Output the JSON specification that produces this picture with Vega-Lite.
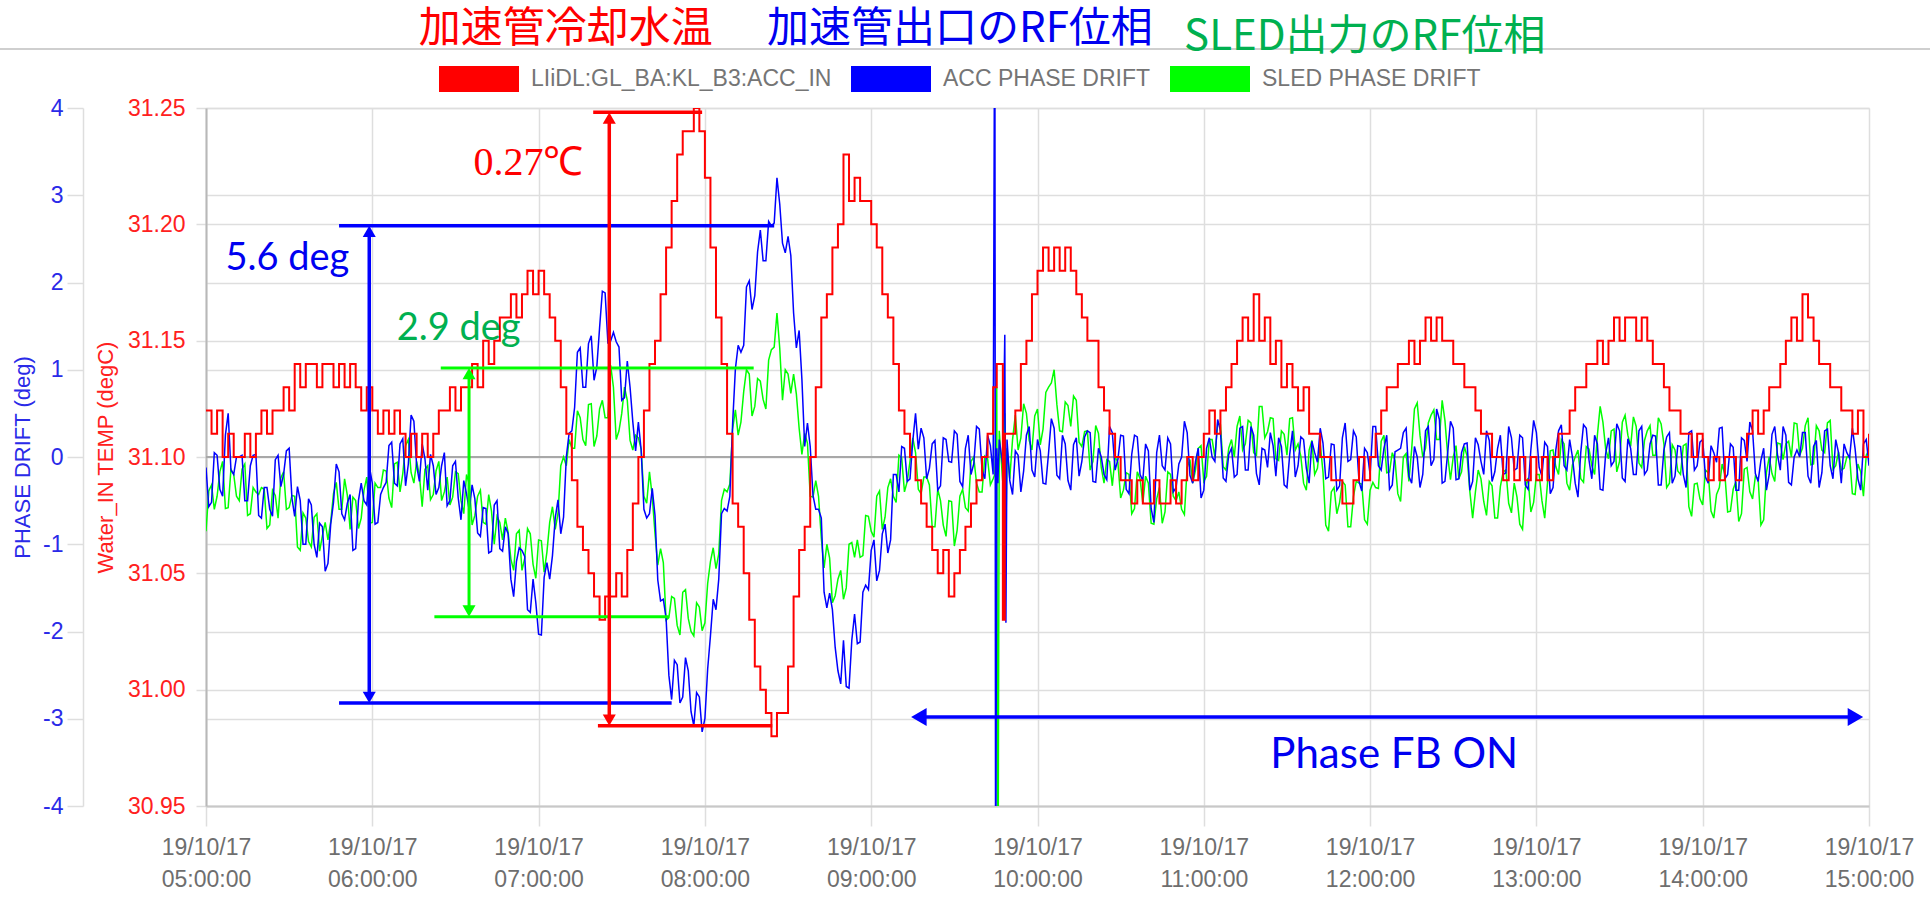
{
"$schema": "https://vega.github.io/schema/vega-lite/v6.json",
"width": 1663, "height": 698,
"autosize": {"type": "none"},
"padding": {"left": 206, "top": 108, "right": 61, "bottom": 92},
"background": "white",
"config": {"view": {"stroke": null}, "font": "Liberation Sans"},
"datasets": {
"series": [
{"t":0,"temp":31.12,"acc":-0.12,"sled":-0.85},{"t":2,"temp":31.11,"acc":-0.52,"sled":-0.32},{"t":4,"temp":31.12,"acc":0.02,"sled":-0.45},{"t":6,"temp":31.10,"acc":-0.45,"sled":-0.05},{"t":8,"temp":31.11,"acc":0.5,"sled":-0.58},{"t":10,"temp":31.10,"acc":-0.2,"sled":-0.2},{"t":12,"temp":31.10,"acc":0.0,"sled":-0.5},{"t":14,"temp":31.11,"acc":-0.5,"sled":-0.08},{"t":16,"temp":31.10,"acc":-0.1,"sled":-0.65},{"t":18,"temp":31.11,"acc":0.03,"sled":-0.4},
{"t":20,"temp":31.12,"acc":-0.7,"sled":-0.35},{"t":22,"temp":31.11,"acc":-0.35,"sled":-0.82},{"t":24,"temp":31.12,"acc":-0.68,"sled":-0.38},{"t":26,"temp":31.12,"acc":0.02,"sled":-0.7},{"t":28,"temp":31.13,"acc":-0.2,"sled":-0.17},{"t":30,"temp":31.12,"acc":0.1,"sled":-0.58},{"t":32,"temp":31.14,"acc":-0.68,"sled":-0.45},{"t":34,"temp":31.13,"acc":-0.5,"sled":-1.07},{"t":36,"temp":31.14,"acc":-1.0,"sled":-0.7},{"t":38,"temp":31.14,"acc":-0.55,"sled":-1.03},
{"t":40,"temp":31.13,"acc":-1.15,"sled":-0.65},{"t":42,"temp":31.14,"acc":-0.8,"sled":-0.9},{"t":44,"temp":31.14,"acc":-1.22,"sled":-0.95},{"t":46,"temp":31.13,"acc":-0.52,"sled":-0.42},{"t":48,"temp":31.14,"acc":-0.17,"sled":-0.6},{"t":50,"temp":31.13,"acc":-0.72,"sled":-0.25},{"t":52,"temp":31.14,"acc":-0.43,"sled":-0.83},{"t":54,"temp":31.13,"acc":-1.05,"sled":-0.5},{"t":56,"temp":31.12,"acc":-0.3,"sled":-0.7},{"t":58,"temp":31.13,"acc":-0.55,"sled":-0.23},
{"t":60,"temp":31.12,"acc":-0.3,"sled":-0.75},{"t":62,"temp":31.11,"acc":-0.75,"sled":-0.35},{"t":64,"temp":31.12,"acc":-0.35,"sled":-0.15},{"t":66,"temp":31.11,"acc":0.13,"sled":-0.47},{"t":68,"temp":31.12,"acc":-0.3,"sled":-0.08},{"t":70,"temp":31.11,"acc":0.15,"sled":-0.4},{"t":72,"temp":31.10,"acc":-0.33,"sled":0.13},{"t":74,"temp":31.11,"acc":0.48,"sled":-0.18},{"t":76,"temp":31.10,"acc":-0.1,"sled":-0.05},{"t":78,"temp":31.11,"acc":0.15,"sled":-0.57},
{"t":80,"temp":31.10,"acc":-0.38,"sled":-0.1},{"t":82,"temp":31.11,"acc":-0.1,"sled":-0.43},{"t":84,"temp":31.12,"acc":-0.35,"sled":-0.05},{"t":86,"temp":31.12,"acc":0.05,"sled":-0.4},{"t":88,"temp":31.13,"acc":-0.5,"sled":-0.55},{"t":90,"temp":31.12,"acc":-0.05,"sled":-0.17},{"t":92,"temp":31.13,"acc":-0.72,"sled":-0.5},{"t":94,"temp":31.13,"acc":-0.42,"sled":-0.2},{"t":96,"temp":31.14,"acc":-0.32,"sled":-0.78},{"t":98,"temp":31.13,"acc":-0.87,"sled":-0.45},
{"t":100,"temp":31.15,"acc":-0.58,"sled":-0.75},{"t":102,"temp":31.14,"acc":-1.1,"sled":-0.43},{"t":104,"temp":31.15,"acc":-0.55,"sled":-1.0},{"t":106,"temp":31.16,"acc":-1.05,"sled":-0.75},{"t":108,"temp":31.16,"acc":-0.8,"sled":-0.7},{"t":110,"temp":31.17,"acc":-1.4,"sled":-1.17},{"t":112,"temp":31.16,"acc":-1.2,"sled":-0.88},{"t":114,"temp":31.17,"acc":-1.07,"sled":-1.3},{"t":116,"temp":31.18,"acc":-1.75,"sled":-0.82},{"t":118,"temp":31.17,"acc":-1.4,"sled":-1.23},
{"t":120,"temp":31.18,"acc":-2.03,"sled":-0.95},{"t":122,"temp":31.17,"acc":-1.38,"sled":-1.32},{"t":124,"temp":31.16,"acc":-1.4,"sled":-0.75},{"t":126,"temp":31.15,"acc":-0.7,"sled":-0.83},{"t":128,"temp":31.13,"acc":-0.88,"sled":-0.1},{"t":130,"temp":31.11,"acc":0.0,"sled":-0.1},{"t":132,"temp":31.09,"acc":0.3,"sled":0.1},{"t":134,"temp":31.07,"acc":1.2,"sled":0.53},{"t":136,"temp":31.06,"acc":0.8,"sled":0.2},{"t":138,"temp":31.05,"acc":1.3,"sled":0.6},
{"t":140,"temp":31.04,"acc":0.88,"sled":0.12},{"t":142,"temp":31.03,"acc":1.48,"sled":0.55},{"t":144,"temp":31.04,"acc":1.88,"sled":0.45},{"t":146,"temp":31.04,"acc":1.33,"sled":1.05},{"t":148,"temp":31.05,"acc":1.32,"sled":0.2},{"t":150,"temp":31.04,"acc":0.65,"sled":0.5},{"t":152,"temp":31.06,"acc":1.1,"sled":0.65},{"t":154,"temp":31.08,"acc":0.4,"sled":0.08},{"t":156,"temp":31.10,"acc":0.4,"sled":0.22},{"t":158,"temp":31.12,"acc":-0.6,"sled":-0.45},
{"t":160,"temp":31.14,"acc":-0.65,"sled":-0.17},{"t":162,"temp":31.15,"acc":-0.67,"sled":-0.88},{"t":164,"temp":31.17,"acc":-1.65,"sled":-1.05},{"t":166,"temp":31.19,"acc":-1.85,"sled":-1.87},{"t":168,"temp":31.21,"acc":-2.78,"sled":-1.6},{"t":170,"temp":31.23,"acc":-2.38,"sled":-1.93},{"t":172,"temp":31.24,"acc":-2.75,"sled":-1.55},{"t":174,"temp":31.24,"acc":-2.45,"sled":-1.85},{"t":176,"temp":31.25,"acc":-3.08,"sled":-2.05},{"t":178,"temp":31.24,"acc":-2.75,"sled":-1.72},
{"t":180,"temp":31.22,"acc":-3.0,"sled":-1.9},{"t":182,"temp":31.19,"acc":-2.05,"sled":-1.2},{"t":184,"temp":31.16,"acc":-1.75,"sled":-1.28},{"t":186,"temp":31.14,"acc":-0.65,"sled":-0.5},{"t":188,"temp":31.11,"acc":-0.62,"sled":-0.4},{"t":190,"temp":31.08,"acc":0.38,"sled":0.32},{"t":192,"temp":31.07,"acc":1.28,"sled":0.25},{"t":194,"temp":31.05,"acc":1.28,"sled":0.75},{"t":196,"temp":31.03,"acc":2.02,"sled":0.95},{"t":198,"temp":31.01,"acc":1.85,"sled":0.58},
{"t":200,"temp":31.00,"acc":2.6,"sled":0.87},{"t":202,"temp":30.99,"acc":2.25,"sled":0.55},{"t":204,"temp":30.98,"acc":2.65,"sled":1.23},{"t":206,"temp":30.99,"acc":3.2,"sled":1.65},{"t":208,"temp":30.99,"acc":2.45,"sled":0.65},{"t":210,"temp":31.01,"acc":2.53,"sled":0.95},{"t":212,"temp":31.04,"acc":1.65,"sled":0.95},{"t":214,"temp":31.06,"acc":1.45,"sled":0.33},{"t":216,"temp":31.07,"acc":0.12,"sled":0.27},{"t":218,"temp":31.10,"acc":0.12,"sled":-0.45},
{"t":220,"temp":31.13,"acc":-0.6,"sled":-0.27},{"t":222,"temp":31.16,"acc":-0.7,"sled":-0.93},{"t":224,"temp":31.17,"acc":-1.73,"sled":-1.0},{"t":226,"temp":31.19,"acc":-1.75,"sled":-1.67},{"t":228,"temp":31.20,"acc":-2.45,"sled":-1.4},{"t":230,"temp":31.23,"acc":-2.1,"sled":-1.63},{"t":232,"temp":31.21,"acc":-2.65,"sled":-1.0},{"t":234,"temp":31.22,"acc":-1.8,"sled":-1.15},{"t":236,"temp":31.21,"acc":-2.12,"sled":-1.15},{"t":238,"temp":31.21,"acc":-1.47,"sled":-0.67},
{"t":240,"temp":31.20,"acc":-1.07,"sled":-0.85},{"t":242,"temp":31.19,"acc":-1.42,"sled":-0.45},{"t":244,"temp":31.17,"acc":-0.88,"sled":-0.83},{"t":246,"temp":31.16,"acc":-1.1,"sled":-0.35},{"t":248,"temp":31.14,"acc":-0.2,"sled":-0.45},{"t":250,"temp":31.12,"acc":-0.4,"sled":0.02},{"t":252,"temp":31.11,"acc":0.1,"sled":-0.4},{"t":254,"temp":31.10,"acc":-0.25,"sled":-0.05},{"t":256,"temp":31.09,"acc":0.5,"sled":0.05},{"t":258,"temp":31.08,"acc":0.33,"sled":-0.42},
{"t":260,"temp":31.07,"acc":-0.25,"sled":-0.23},{"t":262,"temp":31.06,"acc":0.15,"sled":-0.8},{"t":264,"temp":31.05,"acc":-0.38,"sled":-0.37},{"t":266,"temp":31.06,"acc":0.22,"sled":-0.78},{"t":268,"temp":31.04,"acc":-0.05,"sled":-0.5},{"t":270,"temp":31.05,"acc":0.3,"sled":-1.02},{"t":272,"temp":31.06,"acc":-0.28,"sled":-0.45},{"t":274,"temp":31.07,"acc":0.1,"sled":-0.58},{"t":276,"temp":31.08,"acc":-0.2,"sled":-0.05},{"t":278,"temp":31.09,"acc":0.35,"sled":-0.3},
{"t":280,"temp":31.10,"acc":-0.15,"sled":-0.4},{"t":282,"temp":31.11,"acc":0.25,"sled":-0.02},{"t":284,"temp":31.13,"acc":-0.2,"sled":-0.25},
{"t":284.6,"temp":31.13,"acc":6,"sled":-0.2},{"t":284.9,"temp":31.13,"acc":-6,"sled":0.1},{"t":285.3,"temp":31.14,"acc":0.1,"sled":0.8},{"t":285.7,"temp":31.14,"acc":-0.3,"sled":-6},{"t":286.2,"temp":31.14,"acc":0.2,"sled":0.3},{"t":287.5,"temp":31.03,"acc":-0.1,"sled":-0.3},{"t":288.2,"temp":31.11,"acc":1.4,"sled":0.5},{"t":288.6,"temp":31.11,"acc":-1.9,"sled":-0.9},
{"t":290,"temp":31.11,"acc":-0.27,"sled":-0.25},{"t":292,"temp":31.12,"acc":0.07,"sled":0.48},{"t":294,"temp":31.14,"acc":-0.4,"sled":0.22},{"t":296,"temp":31.15,"acc":0.25,"sled":0.5},{"t":298,"temp":31.17,"acc":-0.15,"sled":0.08},
{"t":300,"temp":31.18,"acc":0.2,"sled":0.55},{"t":302,"temp":31.19,"acc":-0.3,"sled":0.32},{"t":304,"temp":31.18,"acc":0.05,"sled":0.8},{"t":306,"temp":31.19,"acc":0.33,"sled":1.0},{"t":308,"temp":31.18,"acc":-0.25,"sled":0.3},{"t":310,"temp":31.19,"acc":0.15,"sled":0.63},{"t":312,"temp":31.18,"acc":-0.38,"sled":0.35},{"t":314,"temp":31.17,"acc":0.22,"sled":0.65},{"t":316,"temp":31.16,"acc":-0.05,"sled":0.12},{"t":318,"temp":31.15,"acc":0.3,"sled":0.3},
{"t":320,"temp":31.15,"acc":-0.28,"sled":-0.05},{"t":322,"temp":31.13,"acc":0.1,"sled":0.27},{"t":324,"temp":31.12,"acc":-0.2,"sled":-0.3},{"t":326,"temp":31.11,"acc":0.35,"sled":-0.05},{"t":328,"temp":31.10,"acc":-0.15,"sled":0.0},{"t":330,"temp":31.09,"acc":0.25,"sled":-0.47},{"t":332,"temp":31.09,"acc":-0.37,"sled":-0.18},{"t":334,"temp":31.08,"acc":0.03,"sled":-0.65},{"t":336,"temp":31.09,"acc":0.23,"sled":-0.17},{"t":338,"temp":31.08,"acc":-0.27,"sled":-0.53},
{"t":340,"temp":31.08,"acc":0.07,"sled":-0.3},{"t":342,"temp":31.09,"acc":-0.75,"sled":-0.77},{"t":344,"temp":31.08,"acc":0.25,"sled":-0.35},{"t":346,"temp":31.08,"acc":-0.15,"sled":-0.63},{"t":348,"temp":31.09,"acc":0.15,"sled":-0.2},{"t":350,"temp":31.08,"acc":-0.35,"sled":-0.5},{"t":352,"temp":31.09,"acc":0.0,"sled":-0.6},{"t":354,"temp":31.10,"acc":0.28,"sled":-0.12},{"t":356,"temp":31.09,"acc":-0.3,"sled":-0.3},{"t":358,"temp":31.10,"acc":0.1,"sled":0.1},
{"t":360,"temp":31.11,"acc":-0.38,"sled":-0.28},{"t":362,"temp":31.12,"acc":0.22,"sled":0.2},{"t":364,"temp":31.11,"acc":-0.05,"sled":0.0},{"t":366,"temp":31.12,"acc":0.3,"sled":0.37},{"t":368,"temp":31.13,"acc":-0.28,"sled":-0.15},{"t":370,"temp":31.14,"acc":0.1,"sled":0.2},{"t":372,"temp":31.15,"acc":-0.2,"sled":0.35},{"t":374,"temp":31.16,"acc":0.35,"sled":0.08},{"t":376,"temp":31.15,"acc":-0.15,"sled":0.42},{"t":378,"temp":31.17,"acc":0.25,"sled":0.05},
{"t":380,"temp":31.15,"acc":-0.32,"sled":0.58},{"t":382,"temp":31.16,"acc":0.08,"sled":0.22},{"t":384,"temp":31.14,"acc":0.28,"sled":0.45},{"t":386,"temp":31.15,"acc":-0.22,"sled":-0.02},{"t":388,"temp":31.13,"acc":0.12,"sled":0.3},{"t":390,"temp":31.14,"acc":-0.35,"sled":0.02},{"t":392,"temp":31.13,"acc":0.3,"sled":0.45},{"t":394,"temp":31.12,"acc":-0.1,"sled":0.15},{"t":396,"temp":31.13,"acc":0.2,"sled":-0.3},{"t":398,"temp":31.11,"acc":-0.3,"sled":0.08},
{"t":400,"temp":31.11,"acc":0.05,"sled":-0.2},{"t":402,"temp":31.10,"acc":0.33,"sled":0.15},{"t":404,"temp":31.10,"acc":-0.25,"sled":-0.78},{"t":406,"temp":31.09,"acc":0.15,"sled":-0.4},{"t":408,"temp":31.09,"acc":-0.38,"sled":-0.65},{"t":410,"temp":31.08,"acc":0.22,"sled":-0.28},{"t":412,"temp":31.08,"acc":-0.05,"sled":-0.8},{"t":414,"temp":31.09,"acc":0.3,"sled":-0.45},{"t":416,"temp":31.10,"acc":-0.28,"sled":-0.3},{"t":418,"temp":31.09,"acc":0.1,"sled":-0.72},
{"t":420,"temp":31.10,"acc":-0.2,"sled":-0.38},{"t":422,"temp":31.11,"acc":0.35,"sled":-0.35},{"t":424,"temp":31.12,"acc":-0.15,"sled":0.18},{"t":426,"temp":31.13,"acc":0.25,"sled":-0.18},{"t":428,"temp":31.13,"acc":-0.32,"sled":0.05},{"t":430,"temp":31.14,"acc":0.08,"sled":-0.42},{"t":432,"temp":31.14,"acc":0.28,"sled":0.0},{"t":434,"temp":31.15,"acc":-0.22,"sled":-0.28},{"t":436,"temp":31.14,"acc":0.12,"sled":0.55},{"t":438,"temp":31.15,"acc":-0.35,"sled":0.25},
{"t":440,"temp":31.16,"acc":0.3,"sled":0.1},{"t":442,"temp":31.15,"acc":-0.1,"sled":0.48},{"t":444,"temp":31.16,"acc":0.55,"sled":0.2},{"t":446,"temp":31.15,"acc":-0.3,"sled":0.65},{"t":448,"temp":31.15,"acc":0.05,"sled":0.02},{"t":450,"temp":31.14,"acc":0.33,"sled":0.0},{"t":452,"temp":31.14,"acc":-0.25,"sled":-0.25},{"t":454,"temp":31.13,"acc":0.15,"sled":0.12},{"t":456,"temp":31.13,"acc":-0.38,"sled":-0.4},{"t":458,"temp":31.12,"acc":0.22,"sled":-0.4},
{"t":460,"temp":31.11,"acc":-0.05,"sled":-0.25},{"t":462,"temp":31.11,"acc":0.3,"sled":-0.67},{"t":464,"temp":31.10,"acc":-0.28,"sled":-0.33},{"t":466,"temp":31.10,"acc":0.1,"sled":-0.7},{"t":468,"temp":31.09,"acc":-0.2,"sled":-0.17},{"t":470,"temp":31.10,"acc":0.35,"sled":-0.53},{"t":472,"temp":31.09,"acc":-0.15,"sled":-0.3},{"t":474,"temp":31.10,"acc":0.25,"sled":-0.77},{"t":476,"temp":31.09,"acc":-0.32,"sled":-0.35},{"t":478,"temp":31.10,"acc":0.08,"sled":-0.63},
{"t":480,"temp":31.09,"acc":0.28,"sled":-0.2},{"t":482,"temp":31.10,"acc":-0.22,"sled":-0.5},{"t":484,"temp":31.09,"acc":0.12,"sled":-0.3},{"t":486,"temp":31.10,"acc":-0.35,"sled":0.08},{"t":488,"temp":31.11,"acc":0.3,"sled":-0.2},{"t":490,"temp":31.11,"acc":-0.1,"sled":0.15},{"t":492,"temp":31.12,"acc":0.2,"sled":-0.38},{"t":494,"temp":31.13,"acc":-0.3,"sled":0.0},{"t":496,"temp":31.13,"acc":0.05,"sled":-0.25},{"t":498,"temp":31.14,"acc":0.33,"sled":0.12},
{"t":500,"temp":31.14,"acc":-0.25,"sled":-0.1},{"t":502,"temp":31.15,"acc":0.15,"sled":0.25},{"t":504,"temp":31.14,"acc":-0.38,"sled":0.4},{"t":506,"temp":31.15,"acc":0.22,"sled":-0.02},{"t":508,"temp":31.16,"acc":-0.05,"sled":0.32},{"t":510,"temp":31.15,"acc":0.3,"sled":-0.05},{"t":512,"temp":31.16,"acc":-0.28,"sled":0.48},{"t":514,"temp":31.16,"acc":0.1,"sled":0.12},{"t":516,"temp":31.15,"acc":-0.2,"sled":0.35},{"t":518,"temp":31.16,"acc":0.35,"sled":-0.12},
{"t":520,"temp":31.15,"acc":-0.15,"sled":0.3},{"t":522,"temp":31.14,"acc":0.25,"sled":0.02},{"t":524,"temp":31.14,"acc":-0.32,"sled":0.45},{"t":526,"temp":31.13,"acc":0.08,"sled":0.15},{"t":528,"temp":31.12,"acc":0.28,"sled":-0.3},{"t":530,"temp":31.12,"acc":-0.22,"sled":0.08},{"t":532,"temp":31.11,"acc":0.12,"sled":-0.2},{"t":534,"temp":31.11,"acc":-0.35,"sled":0.15},{"t":536,"temp":31.10,"acc":0.3,"sled":-0.68},{"t":538,"temp":31.11,"acc":-0.1,"sled":-0.3},
{"t":540,"temp":31.10,"acc":0.2,"sled":-0.55},{"t":542,"temp":31.09,"acc":-0.3,"sled":-0.18},{"t":544,"temp":31.10,"acc":0.05,"sled":-0.7},{"t":546,"temp":31.09,"acc":0.33,"sled":-0.35},{"t":548,"temp":31.10,"acc":-0.25,"sled":-0.2},{"t":550,"temp":31.10,"acc":0.15,"sled":-0.62},{"t":552,"temp":31.09,"acc":-0.38,"sled":-0.28},{"t":554,"temp":31.10,"acc":0.22,"sled":-0.65},{"t":556,"temp":31.11,"acc":-0.05,"sled":-0.12},{"t":558,"temp":31.12,"acc":0.3,"sled":-0.48},
{"t":560,"temp":31.11,"acc":-0.28,"sled":-0.25},{"t":562,"temp":31.12,"acc":0.1,"sled":-0.72},{"t":564,"temp":31.13,"acc":-0.2,"sled":0.0},{"t":566,"temp":31.13,"acc":0.35,"sled":-0.28},{"t":568,"temp":31.14,"acc":-0.15,"sled":0.15},{"t":570,"temp":31.15,"acc":0.25,"sled":0.15},{"t":572,"temp":31.16,"acc":-0.32,"sled":0.0},{"t":574,"temp":31.15,"acc":0.08,"sled":0.38},{"t":576,"temp":31.17,"acc":0.28,"sled":0.1},{"t":578,"temp":31.16,"acc":-0.22,"sled":0.45},
{"t":580,"temp":31.15,"acc":0.12,"sled":-0.08},{"t":582,"temp":31.14,"acc":-0.35,"sled":0.3},{"t":584,"temp":31.14,"acc":0.3,"sled":0.05},{"t":586,"temp":31.13,"acc":-0.1,"sled":0.42},{"t":588,"temp":31.13,"acc":0.2,"sled":-0.1},{"t":590,"temp":31.12,"acc":-0.3,"sled":-0.15},{"t":592,"temp":31.12,"acc":0.05,"sled":0.0},{"t":594,"temp":31.11,"acc":0.33,"sled":-0.42},{"t":596,"temp":31.12,"acc":-0.25,"sled":-0.08},{"t":598,"temp":31.10,"acc":0.15,"sled":-0.45},
{"t":600,"temp":31.11,"acc":-0.1,"sled":0.08},
{"t":1,"acc":-0.57,"sled":-0.39},{"t":3,"acc":0.05,"sled":-0.6},{"t":5,"acc":-0.37,"sled":-0.17},{"t":7,"acc":0.25,"sled":-0.59},{"t":9,"acc":-0.15,"sled":-0.14},{"t":11,"acc":0.0,"sled":-0.45},{"t":13,"acc":0.02,"sled":-0.14},{"t":15,"acc":-0.5,"sled":-0.67},{"t":17,"acc":0.02,"sled":-0.35},{"t":19,"acc":-0.67,"sled":-0.43},
{"t":21,"acc":-0.35,"sled":-0.37},{"t":23,"acc":-0.6,"sled":-0.78},{"t":25,"acc":-0.03,"sled":-0.44},{"t":27,"acc":-0.34,"sled":-0.24},{"t":29,"acc":0.07,"sled":-0.6},{"t":31,"acc":-0.47,"sled":-0.44},{"t":33,"acc":-0.34,"sled":-1.03},{"t":35,"acc":-1.0,"sled":-0.64},{"t":37,"acc":-0.48,"sled":-0.97},{"t":39,"acc":-1.0,"sled":-0.69},
{"t":41,"acc":-0.76,"sled":-1.08},{"t":43,"acc":-1.31,"sled":-0.75},{"t":45,"acc":-0.77,"sled":-0.74},{"t":47,"acc":-0.08,"sled":-0.29},{"t":49,"acc":-0.65,"sled":-0.6},{"t":51,"acc":-0.53,"sled":-0.44},{"t":53,"acc":-1.07,"sled":-0.46},{"t":55,"acc":-0.5,"sled":-0.82},{"t":57,"acc":-0.5,"sled":-0.38},{"t":59,"acc":-0.12,"sled":-0.76},
{"t":61,"acc":-0.77,"sled":-0.3},{"t":63,"acc":-0.43,"sled":-0.35},{"t":65,"acc":-0.29,"sled":-0.16},{"t":67,"acc":0.17,"sled":-0.58},{"t":69,"acc":-0.33,"sled":-0.06},{"t":71,"acc":0.21,"sled":-0.19},{"t":73,"acc":-0.08,"sled":0.2},{"t":75,"acc":0.41,"sled":-0.3},{"t":77,"acc":-0.28,"sled":-0.21},{"t":79,"acc":-0.02,"sled":-0.14},
{"t":81,"acc":0.03,"sled":-0.49},{"t":83,"acc":-0.43,"sled":-0.16},{"t":85,"acc":-0.1,"sled":-0.5},{"t":87,"acc":-0.56,"sled":-0.23},{"t":89,"acc":-0.1,"sled":-0.46},{"t":91,"acc":-0.47,"sled":-0.19},{"t":93,"acc":-0.27,"sled":-0.65},{"t":95,"acc":-0.62,"sled":-0.31},{"t":97,"acc":-0.48,"sled":-0.67},{"t":99,"acc":-0.91,"sled":-0.38},
{"t":101,"acc":-0.59,"sled":-0.77},{"t":103,"acc":-1.08,"sled":-0.62},{"t":105,"acc":-0.5,"sled":-0.68},{"t":107,"acc":-1.08,"sled":-0.95},{"t":109,"acc":-0.88,"sled":-0.86},{"t":111,"acc":-1.6,"sled":-1.3},{"t":113,"acc":-1.04,"sled":-0.84},{"t":115,"acc":-1.14,"sled":-1.16},{"t":117,"acc":-1.78,"sled":-0.88},{"t":119,"acc":-1.67,"sled":-1.39},
{"t":121,"acc":-2.04,"sled":-0.96},{"t":123,"acc":-1.21,"sled":-1.09},{"t":125,"acc":-1.13,"sled":-0.57},{"t":127,"acc":-0.49,"sled":-0.65},{"t":129,"acc":-0.69,"sled":0.0},{"t":131,"acc":0.27,"sled":0.2},{"t":133,"acc":0.57,"sled":0.1},{"t":135,"acc":1.25,"sled":0.45},{"t":137,"acc":0.8,"sled":0.13},{"t":139,"acc":1.39,"sled":0.61},
{"t":141,"acc":1.03,"sled":0.24},{"t":143,"acc":1.9,"sled":0.65},{"t":145,"acc":1.31,"sled":0.45},{"t":147,"acc":1.43,"sled":0.8},{"t":149,"acc":1.26,"sled":0.3},{"t":151,"acc":0.68,"sled":0.8},{"t":153,"acc":0.8,"sled":0.19},{"t":155,"acc":0.07,"sled":0.25},{"t":157,"acc":0.08,"sled":0.09},{"t":159,"acc":-0.7,"sled":-0.53},
{"t":161,"acc":-0.36,"sled":-0.45},{"t":163,"acc":-1.41,"sled":-1.24},{"t":165,"acc":-1.63,"sled":-1.21},{"t":167,"acc":-2.5,"sled":-1.84},{"t":169,"acc":-2.33,"sled":-1.62},{"t":171,"acc":-2.82,"sled":-2.04},{"t":173,"acc":-2.3,"sled":-1.52},{"t":175,"acc":-2.92,"sled":-2.0},{"t":177,"acc":-2.7,"sled":-1.67},{"t":179,"acc":-3.15,"sled":-1.99},
{"t":181,"acc":-2.43,"sled":-1.45},{"t":183,"acc":-1.63,"sled":-1.04},{"t":185,"acc":-1.4,"sled":-1.11},{"t":187,"acc":-0.59,"sled":-0.37},{"t":189,"acc":-0.45,"sled":-0.31},{"t":191,"acc":1.01,"sled":0.54},{"t":193,"acc":1.2,"sled":0.4},{"t":195,"acc":1.95,"sled":1.0},{"t":197,"acc":1.69,"sled":0.47},{"t":199,"acc":2.35,"sled":0.9},
{"t":201,"acc":2.25,"sled":0.66},{"t":203,"acc":2.7,"sled":1.11},{"t":205,"acc":2.68,"sled":1.26},{"t":207,"acc":2.9,"sled":1.25},{"t":209,"acc":2.34,"sled":1.0},{"t":211,"acc":2.31,"sled":0.73},{"t":213,"acc":1.25,"sled":0.72},{"t":215,"acc":0.89,"sled":0.03},{"t":217,"acc":0.39,"sled":0.16},{"t":219,"acc":-0.44,"sled":-0.46},
{"t":221,"acc":-0.6,"sled":-0.45},{"t":223,"acc":-1.55,"sled":-1.27},{"t":225,"acc":-1.56,"sled":-1.16},{"t":227,"acc":-2.18,"sled":-1.59},{"t":229,"acc":-2.6,"sled":-1.3},{"t":231,"acc":-2.63,"sled":-1.5},{"t":233,"acc":-2.1,"sled":-0.98},{"t":235,"acc":-2.14,"sled":-0.95},{"t":237,"acc":-1.55,"sled":-1.13},{"t":239,"acc":-1.52,"sled":-0.68},
{"t":241,"acc":-0.95,"sled":-0.92},{"t":243,"acc":-1.3,"sled":-0.39},{"t":245,"acc":-0.77,"sled":-0.69},{"t":247,"acc":-0.95,"sled":-0.25},{"t":249,"acc":-0.2,"sled":-0.52},{"t":251,"acc":0.12,"sled":-0.01},{"t":253,"acc":-0.28,"sled":-0.28},{"t":255,"acc":0.18,"sled":0.22},{"t":257,"acc":0.09,"sled":-0.37},{"t":259,"acc":0.22,"sled":-0.23},
{"t":261,"acc":-0.13,"sled":-0.32},{"t":263,"acc":0.19,"sled":-0.8},{"t":265,"acc":-0.33,"sled":-0.5},{"t":267,"acc":0.2,"sled":-0.91},{"t":269,"acc":-0.06,"sled":-0.51},{"t":271,"acc":0.26,"sled":-0.84},{"t":273,"acc":-0.34,"sled":-0.37},{"t":275,"acc":0.25,"sled":-0.62},{"t":277,"acc":-0.08,"sled":0.0},{"t":279,"acc":0.32,"sled":-0.4},
{"t":281,"acc":-0.25,"sled":0.01},{"t":283,"acc":0.13,"sled":-0.32},{"t":289,"acc":0.2,"sled":0.1},{"t":291,"acc":-0.43,"sled":0.2},{"t":293,"acc":0.02,"sled":0.08},{"t":295,"acc":-0.16,"sled":0.61},{"t":297,"acc":0.35,"sled":0.19},{"t":299,"acc":-0.23,"sled":0.47},
{"t":301,"acc":0.07,"sled":0.14},{"t":303,"acc":-0.31,"sled":0.74},{"t":305,"acc":0.44,"sled":0.85},{"t":307,"acc":-0.21,"sled":0.6},{"t":309,"acc":0.25,"sled":0.29},{"t":311,"acc":-0.27,"sled":0.59},{"t":313,"acc":0.14,"sled":0.7},{"t":315,"acc":-0.22,"sled":0.17},{"t":317,"acc":0.23,"sled":0.29},{"t":319,"acc":0.28,"sled":-0.15},
{"t":321,"acc":-0.29,"sled":0.36},{"t":323,"acc":0.0,"sled":-0.12},{"t":325,"acc":-0.26,"sled":-0.03},{"t":327,"acc":0.28,"sled":-0.33},{"t":329,"acc":-0.03,"sled":-0.06},{"t":331,"acc":0.24,"sled":-0.38},{"t":333,"acc":-0.42,"sled":-0.2},{"t":335,"acc":0.25,"sled":-0.59},{"t":337,"acc":-0.2,"sled":-0.25},{"t":339,"acc":0.15,"sled":-0.22},
{"t":341,"acc":-0.59,"sled":-0.76},{"t":343,"acc":0.05,"sled":-0.48},{"t":345,"acc":-0.1,"sled":-0.76},{"t":347,"acc":0.22,"sled":-0.17},{"t":349,"acc":-0.4,"sled":-0.45},{"t":351,"acc":-0.08,"sled":-0.4},{"t":353,"acc":0.41,"sled":-0.66},{"t":355,"acc":-0.21,"sled":-0.03},{"t":357,"acc":-0.05,"sled":-0.15},{"t":359,"acc":-0.47,"sled":0.13},
{"t":361,"acc":0.1,"sled":-0.22},{"t":363,"acc":0.0,"sled":0.2},{"t":365,"acc":0.43,"sled":0.39},{"t":367,"acc":-0.24,"sled":-0.11},{"t":369,"acc":0.03,"sled":0.1},{"t":371,"acc":-0.23,"sled":0.0},{"t":373,"acc":0.33,"sled":0.47},{"t":375,"acc":-0.15,"sled":0.15},{"t":377,"acc":0.35,"sled":0.39},{"t":379,"acc":-0.19,"sled":0.02},
{"t":381,"acc":0.1,"sled":0.58},{"t":383,"acc":-0.12,"sled":0.29},{"t":385,"acc":0.13,"sled":0.44},{"t":387,"acc":0.22,"sled":-0.04},{"t":389,"acc":-0.32,"sled":0.26},{"t":391,"acc":0.03,"sled":0.44},{"t":393,"acc":-0.23,"sled":0.08},{"t":395,"acc":0.23,"sled":0.01},{"t":397,"acc":-0.13,"sled":-0.38},{"t":399,"acc":0.18,"sled":0.19},
{"t":401,"acc":-0.06,"sled":-0.13},{"t":403,"acc":0.16,"sled":-0.17},{"t":405,"acc":-0.23,"sled":-0.85},{"t":407,"acc":0.14,"sled":-0.35},{"t":409,"acc":-0.33,"sled":-0.52},{"t":411,"acc":0.39,"sled":-0.32},{"t":413,"acc":-0.03,"sled":-0.8},{"t":415,"acc":0.23,"sled":-0.28},{"t":417,"acc":-0.39,"sled":-0.31},{"t":419,"acc":0.05,"sled":-0.77},
{"t":421,"acc":0.35,"sled":-0.29},{"t":423,"acc":-0.1,"sled":-0.36},{"t":425,"acc":0.1,"sled":0.25},{"t":427,"acc":-0.37,"sled":-0.17},{"t":429,"acc":0.06,"sled":-0.04},{"t":431,"acc":0.1,"sled":-0.51},{"t":433,"acc":0.33,"sled":0.04},{"t":435,"acc":-0.3,"sled":0.09},{"t":437,"acc":0.0,"sled":0.62},{"t":439,"acc":-0.2,"sled":0.0},
{"t":441,"acc":0.35,"sled":0.39},{"t":443,"acc":-0.03,"sled":0.54},{"t":445,"acc":0.43,"sled":0.2},{"t":447,"acc":-0.28,"sled":0.42},{"t":449,"acc":0.41,"sled":-0.26},{"t":451,"acc":-0.26,"sled":0.13},{"t":453,"acc":0.05,"sled":-0.17},{"t":455,"acc":0.16,"sled":0.01},{"t":457,"acc":-0.28,"sled":-0.7},{"t":459,"acc":0.14,"sled":-0.15},
{"t":461,"acc":-0.2,"sled":-0.51},{"t":463,"acc":0.19,"sled":-0.28},{"t":465,"acc":-0.17,"sled":-0.7},{"t":467,"acc":0.25,"sled":-0.34},{"t":469,"acc":-0.18,"sled":-0.15},{"t":471,"acc":0.22,"sled":-0.64},{"t":473,"acc":-0.13,"sled":-0.46},{"t":475,"acc":0.22,"sled":-0.83},{"t":477,"acc":-0.37,"sled":-0.24},{"t":479,"acc":0.42,"sled":-0.52},
{"t":481,"acc":-0.12,"sled":-0.2},{"t":483,"acc":0.17,"sled":-0.7},{"t":485,"acc":-0.42,"sled":0.07},{"t":487,"acc":0.08,"sled":-0.11},{"t":489,"acc":0.37,"sled":0.2},{"t":491,"acc":-0.15,"sled":-0.3},{"t":493,"acc":0.0,"sled":-0.09},{"t":495,"acc":-0.46,"sled":0.08},{"t":497,"acc":0.37,"sled":-0.29},{"t":499,"acc":-0.04,"sled":0.09},
{"t":501,"acc":0.25,"sled":-0.2},{"t":503,"acc":-0.37,"sled":0.58},{"t":505,"acc":0.04,"sled":0.09},{"t":507,"acc":-0.1,"sled":0.3},{"t":509,"acc":0.38,"sled":-0.17},{"t":511,"acc":-0.24,"sled":0.4},{"t":513,"acc":0.21,"sled":0.25},{"t":515,"acc":-0.2,"sled":0.46},{"t":517,"acc":0.3,"sled":-0.07},{"t":519,"acc":-0.2,"sled":0.19},
{"t":521,"acc":0.15,"sled":0.36},{"t":523,"acc":0.24,"sled":0.02},{"t":525,"acc":-0.32,"sled":0.38},{"t":527,"acc":0.23,"sled":-0.35},{"t":529,"acc":-0.3,"sled":0.14},{"t":531,"acc":0.13,"sled":-0.16},{"t":533,"acc":-0.2,"sled":0.13},{"t":535,"acc":0.28,"sled":-0.57},{"t":537,"acc":-0.15,"sled":-0.31},{"t":539,"acc":0.17,"sled":-0.48},
{"t":541,"acc":-0.23,"sled":-0.15},{"t":543,"acc":0.13,"sled":-0.62},{"t":545,"acc":-0.06,"sled":-0.43},{"t":547,"acc":0.34,"sled":-0.08},{"t":549,"acc":-0.2,"sled":-0.63},{"t":551,"acc":0.11,"sled":-0.37},{"t":553,"acc":-0.38,"sled":-0.74},{"t":555,"acc":0.19,"sled":-0.14},{"t":557,"acc":0.4,"sled":-0.4},{"t":559,"acc":-0.19,"sled":-0.22},
{"t":561,"acc":-0.04,"sled":-0.78},{"t":563,"acc":-0.38,"sled":-0.18},{"t":565,"acc":0.26,"sled":-0.19},{"t":567,"acc":0.02,"sled":0.16},{"t":569,"acc":0.35,"sled":-0.03},{"t":571,"acc":-0.29,"sled":0.18},{"t":573,"acc":0.0,"sled":0.39},{"t":575,"acc":0.0,"sled":0.02},{"t":577,"acc":0.28,"sled":0.36},{"t":579,"acc":-0.3,"sled":-0.09},
{"t":581,"acc":0.19,"sled":0.36},{"t":583,"acc":-0.18,"sled":0.08},{"t":585,"acc":0.32,"sled":0.39},{"t":587,"acc":-0.25,"sled":-0.14},{"t":589,"acc":0.05,"sled":0.06},{"t":591,"acc":0.15,"sled":-0.13},{"t":593,"acc":-0.01,"sled":0.01},{"t":595,"acc":0.09,"sled":-0.43},{"t":597,"acc":-0.38,"sled":-0.17},{"t":599,"acc":0.2,"sled":0.02}
],
"segs": [
{"g":"sep","x":-80,"x2":640,"y":4.676,"y2":4.676},
{"g":"acc","x":48,"x2":205,"y":2.65,"y2":2.65},
{"g":"acc","x":48,"x2":168,"y":-2.82,"y2":-2.82},
{"g":"acc","x":58.9,"x2":58.9,"y":2.6,"y2":-2.77},
{"g":"sled","x":84.7,"x2":197.6,"y":1.02,"y2":1.02},
{"g":"sled","x":82.4,"x2":167,"y":-1.83,"y2":-1.83},
{"g":"sled","x":94.9,"x2":94.9,"y":0.97,"y2":-1.78},
{"g":"temp","x":139.7,"x2":179,"y":3.95,"y2":3.95},
{"g":"temp","x":141.4,"x2":204.3,"y":-3.08,"y2":-3.08},
{"g":"temp","x":145.5,"x2":145.5,"y":3.9,"y2":-3.03},
{"g":"fb","x":256,"x2":596,"y":-2.98,"y2":-2.98}
],
"heads": [
{"g":"acc","dir":"up","x":58.9,"y":2.585},
{"g":"acc","dir":"down","x":58.9,"y":-2.755},
{"g":"sled","dir":"up","x":94.9,"y":0.955},
{"g":"sled","dir":"down","x":94.9,"y":-1.765},
{"g":"temp","dir":"up","x":145.5,"y":3.885},
{"g":"temp","dir":"down","x":145.5,"y":-3.015},
{"g":"fb","dir":"left","x":257.2,"y":-2.98},
{"g":"fb","dir":"right","x":595.1,"y":-2.98}
],
"texts": [
{"kind":"title","g":"temp","x":76.8,"y":4.9,"text":"加速管冷却水温"},
{"kind":"title","g":"acc","x":202.4,"y":4.9,"text":"加速管出口のRF位相"},
{"kind":"title","g":"sled","x":352.9,"y":4.814,"text":"SLED出力のRF位相"},
{"kind":"note","g":"acc","x":7,"y":2.27,"text":"5.6 deg"},
{"kind":"note","g":"sled","x":68.8,"y":1.47,"text":"2.9 deg"},
{"kind":"note","g":"temp","x":96.5,"y":3.37,"text":"0.27℃"},
{"kind":"note","g":"fb","x":384,"y":-3.42,"text":"Phase FB ON"}
]
},
"resolve": {"scale": {"y": "independent"}},
"layer": [
{
 "data": {"name": "series"},
 "layer": [
  {"mark": {"type": "rule", "color": "#a9a9a9", "strokeWidth": 1.5},
   "encoding": {"y": {"datum": 0, "type": "quantitative"}}},
  {"mark": {"type": "line", "strokeWidth": 1.5, "clip": true},
   "encoding": {
    "x": {"field": "t", "type": "quantitative", "scale": {"domain": [0, 600], "nice": false, "zero": false},
     "axis": {"values": [0,60,120,180,240,300,360,420,480,540,600],
      "labelExpr": "['19/10/17', (datum.value < 300 ? '0' : '') + (5 + datum.value / 60) + ':00:00']",
      "title": null, "grid": true, "gridColor": "#dedede", "gridWidth": 1.5,
      "tickColor": "#dedede", "tickSize": 20, "tickWidth": 1.5,
      "domainColor": "#c8c8c8", "domainWidth": 2,
      "labelColor": "#6e6e6e", "labelFont": "Liberation Sans", "labelFontSize": 23,
      "labelLineHeight": 32, "labelPadding": 10, "labelBaseline": "top", "labelAlign": "center",
      "labelFlush": false, "labelOverlap": false}},
    "y": {"field": "sled", "type": "quantitative", "scale": {"domain": [-4, 4], "nice": false, "zero": false},
     "axis": {"orient": "left", "offset": 123, "values": [-4,-3,-2,-1,0,1,2,3,4],
      "labelExpr": "'' + datum.value",
      "title": "PHASE DRIFT (deg)", "titleColor": "#2a2ae8", "titleFont": "Liberation Sans",
      "titleFontSize": 22, "titleFontWeight": "normal", "titleAngle": -90,
      "titleX": -61, "titleY": 349, "titleAlign": "center", "titleBaseline": "middle",
      "labelColor": "#2a2ae8", "labelFont": "Liberation Sans", "labelFontSize": 23, "labelPadding": 4,
      "tickSize": 16, "tickColor": "#dedede", "tickWidth": 1.5,
      "domainColor": "#dedede", "domainWidth": 1.5,
      "grid": true, "gridColor": "#dedede", "gridWidth": 1.5}},
    "color": {"datum": "SLED PHASE DRIFT", "type": "nominal"}
   }},
  {"mark": {"type": "line", "strokeWidth": 1.5, "clip": true},
   "encoding": {
    "x": {"field": "t", "type": "quantitative"},
    "y": {"field": "acc", "type": "quantitative"},
    "color": {"datum": "ACC PHASE DRIFT", "type": "nominal"}
   }}
 ]
},
{
 "data": {"name": "series"},
 "transform": [{"filter": "isValid(datum.temp)"}],
 "mark": {"type": "line", "interpolate": "step-after", "strokeWidth": 2, "clip": true},
 "encoding": {
  "x": {"field": "t", "type": "quantitative"},
  "y": {"field": "temp", "type": "quantitative", "scale": {"domain": [30.95, 31.25], "nice": false, "zero": false},
   "axis": {"orient": "left", "offset": 0, "values": [30.95, 31, 31.05, 31.1, 31.15, 31.2, 31.25],
    "format": ".2f", "title": "Water_IN TEMP (degC)", "titleColor": "#ff2020", "titleFont": "Liberation Sans",
    "titleFontSize": 22, "titleFontWeight": "normal", "titleAngle": -90,
    "titleX": -101, "titleY": 349, "titleAlign": "center", "titleBaseline": "middle",
    "labelColor": "#ff2020", "labelFont": "Liberation Sans", "labelFontSize": 23, "labelPadding": 11,
    "tickSize": 10, "tickColor": "#dedede", "tickWidth": 1.5,
    "domainColor": "#b8b8b8", "domainWidth": 2,
    "grid": true, "gridColor": "#dedede", "gridWidth": 1.5}},
  "color": {"datum": "LIiDL:GL_BA:KL_B3:ACC_IN", "type": "nominal",
   "scale": {"domain": ["LIiDL:GL_BA:KL_B3:ACC_IN", "ACC PHASE DRIFT", "SLED PHASE DRIFT"],
             "range": ["#ff0000", "#0000ff", "#00ff00"]},
   "legend": {"orient": "none", "legendX": 220, "legendY": -82, "direction": "horizontal",
    "title": null, "symbolType": "stroke", "symbolSize": 6400, "symbolStrokeWidth": 26,
    "labelFont": "Liberation Sans", "labelFontSize": 23, "labelColor": "#757575",
    "labelOffset": -1, "columnPadding": -33, "labelLimit": 600,
    "encode": {"symbols": {"update": {"strokeWidth": {"value": 26}, "opacity": {"value": 1}}}}}}
 }
},
{
 "layer": [
  {"data": {"name": "segs"}, "transform": [{"filter": "datum.g == 'sep'"}],
   "mark": {"type": "rule", "color": "#cfcfcf", "strokeWidth": 2},
   "encoding": {"x": {"field": "x", "type": "quantitative"}, "x2": {"field": "x2"},
    "y": {"field": "y", "type": "quantitative", "scale": {"domain": [-4, 4], "nice": false, "zero": false}, "axis": null}, "y2": {"field": "y2"}}},
  {"data": {"name": "segs"}, "transform": [{"filter": "datum.g == 'acc' || datum.g == 'fb'"}],
   "mark": {"type": "rule", "color": "#0000ff", "strokeWidth": 3.5},
   "encoding": {"x": {"field": "x", "type": "quantitative"}, "x2": {"field": "x2"},
    "y": {"field": "y", "type": "quantitative", "axis": null}, "y2": {"field": "y2"}}},
  {"data": {"name": "segs"}, "transform": [{"filter": "datum.g == 'sled'"}],
   "mark": {"type": "rule", "color": "#00ff00", "strokeWidth": 3},
   "encoding": {"x": {"field": "x", "type": "quantitative"}, "x2": {"field": "x2"},
    "y": {"field": "y", "type": "quantitative", "axis": null}, "y2": {"field": "y2"}}},
  {"data": {"name": "segs"}, "transform": [{"filter": "datum.g == 'temp'"}],
   "mark": {"type": "rule", "color": "#ff0000", "strokeWidth": 3.5},
   "encoding": {"x": {"field": "x", "type": "quantitative"}, "x2": {"field": "x2"},
    "y": {"field": "y", "type": "quantitative", "axis": null}, "y2": {"field": "y2"}}},
  {"data": {"name": "heads"}, "transform": [{"filter": "datum.g == 'acc'"}],
   "mark": {"type": "point", "filled": true, "opacity": 1, "size": 170, "color": "#0000ff"},
   "encoding": {"x": {"field": "x", "type": "quantitative"},
    "y": {"field": "y", "type": "quantitative", "axis": null},
    "shape": {"field": "dir", "type": "nominal", "legend": null,
     "scale": {"domain": ["up", "down", "left", "right"], "range": ["triangle-up", "triangle-down", "triangle-left", "triangle-right"]}}}},
  {"data": {"name": "heads"}, "transform": [{"filter": "datum.g == 'fb'"}],
   "mark": {"type": "point", "filled": true, "opacity": 1, "size": 320, "color": "#0000ff"},
   "encoding": {"x": {"field": "x", "type": "quantitative"},
    "y": {"field": "y", "type": "quantitative", "axis": null},
    "shape": {"field": "dir", "type": "nominal", "legend": null}}},
  {"data": {"name": "heads"}, "transform": [{"filter": "datum.g == 'sled'"}],
   "mark": {"type": "point", "filled": true, "opacity": 1, "size": 170, "color": "#00ff00"},
   "encoding": {"x": {"field": "x", "type": "quantitative"},
    "y": {"field": "y", "type": "quantitative", "axis": null},
    "shape": {"field": "dir", "type": "nominal", "legend": null}}},
  {"data": {"name": "heads"}, "transform": [{"filter": "datum.g == 'temp'"}],
   "mark": {"type": "point", "filled": true, "opacity": 1, "size": 170, "color": "#ff0000"},
   "encoding": {"x": {"field": "x", "type": "quantitative"},
    "y": {"field": "y", "type": "quantitative", "axis": null},
    "shape": {"field": "dir", "type": "nominal", "legend": null}}},
  {"data": {"name": "texts"}, "transform": [{"filter": "datum.kind == 'title' && datum.g == 'temp'"}],
   "mark": {"type": "text", "align": "left", "baseline": "middle", "font": "Noto Sans CJK JP", "fontSize": 42, "color": "#ff0000"},
   "encoding": {"x": {"field": "x", "type": "quantitative"}, "y": {"field": "y", "type": "quantitative", "axis": null}, "text": {"field": "text"}}},
  {"data": {"name": "texts"}, "transform": [{"filter": "datum.kind == 'title' && datum.g == 'acc'"}],
   "mark": {"type": "text", "align": "left", "baseline": "middle", "font": "Noto Sans CJK JP", "fontSize": 42, "color": "#0000f0"},
   "encoding": {"x": {"field": "x", "type": "quantitative"}, "y": {"field": "y", "type": "quantitative", "axis": null}, "text": {"field": "text"}}},
  {"data": {"name": "texts"}, "transform": [{"filter": "datum.kind == 'title' && datum.g == 'sled'"}],
   "mark": {"type": "text", "align": "left", "baseline": "middle", "font": "Noto Sans CJK JP", "fontSize": 42, "color": "#00b050"},
   "encoding": {"x": {"field": "x", "type": "quantitative"}, "y": {"field": "y", "type": "quantitative", "axis": null}, "text": {"field": "text"}}},
  {"data": {"name": "texts"}, "transform": [{"filter": "datum.kind == 'note' && datum.g == 'acc'"}],
   "mark": {"type": "text", "align": "left", "baseline": "middle", "font": "Lato", "fontSize": 38, "color": "#0000f0"},
   "encoding": {"x": {"field": "x", "type": "quantitative"}, "y": {"field": "y", "type": "quantitative", "axis": null}, "text": {"field": "text"}}},
  {"data": {"name": "texts"}, "transform": [{"filter": "datum.kind == 'note' && datum.g == 'fb'"}],
   "mark": {"type": "text", "align": "left", "baseline": "middle", "font": "Lato", "fontSize": 42, "color": "#0000f0"},
   "encoding": {"x": {"field": "x", "type": "quantitative"}, "y": {"field": "y", "type": "quantitative", "axis": null}, "text": {"field": "text"}}},
  {"data": {"name": "texts"}, "transform": [{"filter": "datum.kind == 'note' && datum.g == 'sled'"}],
   "mark": {"type": "text", "align": "left", "baseline": "middle", "font": "Lato", "fontSize": 38, "color": "#00b050"},
   "encoding": {"x": {"field": "x", "type": "quantitative"}, "y": {"field": "y", "type": "quantitative", "axis": null}, "text": {"field": "text"}}},
  {"data": {"name": "texts"}, "transform": [{"filter": "datum.kind == 'note' && datum.g == 'temp'"}],
   "mark": {"type": "text", "align": "left", "baseline": "middle", "font": "Liberation Serif", "fontSize": 40, "color": "#ff0000"},
   "encoding": {"x": {"field": "x", "type": "quantitative"}, "y": {"field": "y", "type": "quantitative", "axis": null}, "text": {"field": "text"}}}
 ]
}
]
}
